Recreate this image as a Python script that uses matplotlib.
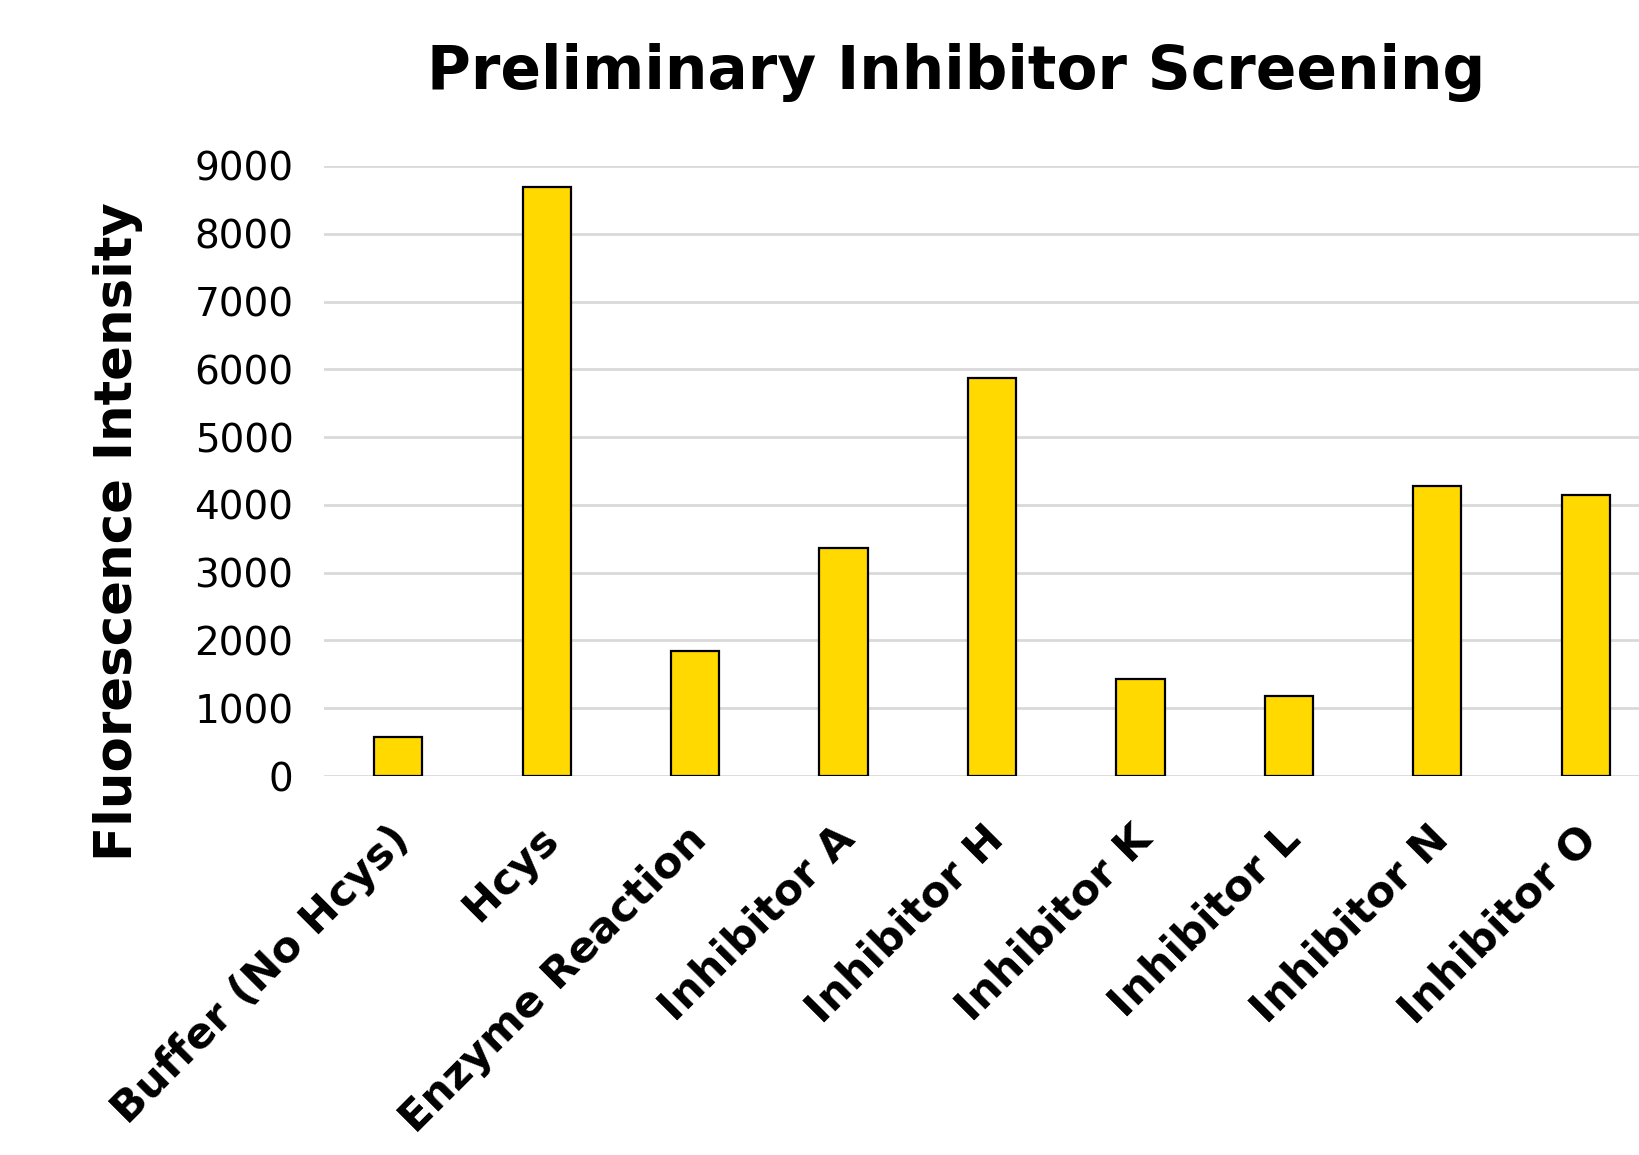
import matplotlib.pyplot as plt
from matplotlib.transforms import ScaledTranslation
import numpy as np

# Data
categories = ["Buffer (No Hcys)", "Hcys", "Enzyme Reaction", "Inhibitor A",
              "Inhibitor H", "Inhibitor K", "Inhibitor L", "Inhibitor N",
              "Inhibitor O"]
intensity = [580, 8690, 1850, 3370, 5870, 1425, 1180, 4285, 4145]
y_ticks = [0, 1000, 2000, 3000, 4000, 5000, 6000, 7000, 8000, 9000]

plt.rcParams['font.family'] = ['DejaVu Sans']

fig = plt.figure(figsize=(16.4, 11.55), dpi=100)
ax = fig.add_axes([0.1976, 0.3281, 0.8146, 0.5282])

xs = np.arange(len(categories))
ax.bar(xs, intensity, width=0.325, color='#FFD900', edgecolor='black',
       linewidth=1.6, zorder=3)

# Axis styling
ax.set_xlim(-0.5, len(categories) - 0.5)
ax.set_ylim(0, 9000)
ax.set_yticks(y_ticks)
ax.set_yticklabels([str(t) for t in y_ticks], fontsize=28)
ax.yaxis.grid(True, color='#D9D9D9', linewidth=2, zorder=0)
ax.set_axisbelow(True)
for side in ['top', 'right', 'left', 'bottom']:
    ax.spines[side].set_visible(False)
ax.tick_params(axis='both', length=0)
ax.tick_params(axis='y', pad=22)

ax.set_xticks(xs)
ax.set_xticklabels(categories, rotation=45, ha='right', va='top',
                   rotation_mode='anchor', fontsize=31, fontweight='bold')
ax.tick_params(axis='x', pad=30)
shift = ScaledTranslation(-0.1, 0, fig.dpi_scale_trans)
for lbl in ax.get_xticklabels():
    lbl.set_transform(lbl.get_transform() + shift)

fig.text(0.072, 0.54, "Fluorescence Intensity", fontsize=37,
         fontweight='bold', rotation=90, ha='center', va='center')
fig.text(0.583, 0.937, "Preliminary Inhibitor Screening", fontsize=43,
         fontweight='bold', ha='center', va='center')

fig.savefig("out.png", dpi=100)
